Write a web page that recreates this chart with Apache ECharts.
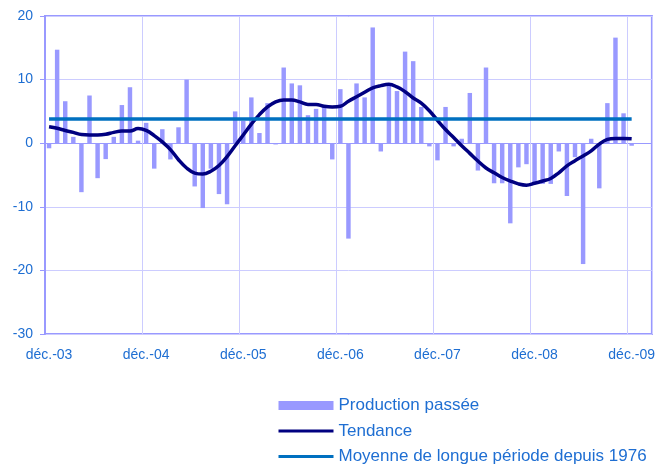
<!DOCTYPE html>
<html>
<head>
<meta charset="utf-8">
<script src="https://cdn.jsdelivr.net/npm/echarts@6/dist/echarts.min.js"></script>
<style>
  html, body { margin: 0; padding: 0; background: #fff; }
  #chart { width: 658px; height: 466px; }
</style>
</head>
<body>
<div id="chart"></div>
<script>
// mois et années de l'axe (déc.-03 -> fin de l'axe en mars-10)
const monthNames = ["déc.", "janv.", "févr.", "mars", "avr.", "mai", "juin", "juil.", "août", "sept.", "oct.", "nov."];
const startYears = ["03", "04", "05", "06", "07", "08", "09"];
const nbCategories = 75;

// production passée (barres), une valeur par mois depuis déc.-03
const production = [
  -0.8, 14.7, 6.6, 1.0, -7.7, 7.5, -5.5, -2.5, 1.0, 6.0, 8.8, 0.4,
  3.2, -4.0, 2.2, -2.55, 2.5, 10.0, -6.8, -10.2, -4.0, -8.0, -9.6, 5.0,
  3.5, 7.2, 1.6, 6.3, -0.2, 11.9, 9.4, 9.1, 4.4, 5.4, 5.7, -2.55,
  8.5, -15.0, 9.4, 7.2, 18.2, -1.3, 9.2, 8.2, 14.4, 12.9, 5.7, -0.5,
  -2.7, 5.7, -0.5, 0.7, 7.9, -4.3, 11.9, -6.3, -6.3, -12.6, -3.8, -3.3,
  -6.2, -6.4, -6.4, -1.3, -8.3, -2.2, -19.0, 0.7, -7.1, 6.3, 16.6, 4.7,
  -0.4
];

// tendance
const tendance = [
  2.6, 2.35, 2.0, 1.7, 1.35, 1.3, 1.3, 1.4, 1.7, 1.9, 1.9, 2.3,
  2.0, 1.2, 0.2, -1.0, -2.6, -3.9, -4.7, -4.85, -4.4, -3.5, -2.1, -0.4,
  1.3, 3.0, 4.5, 5.7, 6.5, 6.8, 6.8, 6.5, 6.1, 6.1, 5.8, 5.7,
  5.8, 6.6, 7.3, 8.0, 8.7, 9.05, 9.25, 8.85, 8.1, 7.1, 6.3, 5.1,
  3.6, 2.15, 0.9, -0.4, -1.6, -2.8, -3.9, -4.65, -5.4, -5.95, -6.4, -6.6,
  -6.3, -5.95, -5.55, -4.65, -3.55, -2.75, -2.0, -1.2, -0.15, 0.6, 0.75, 0.75,
  0.7
];

// moyenne de longue période depuis 1976
const moyenne = 3.8;

const yTicks = { min: -30, max: 20, interval: 10 };

const categories = [];
for (let i = 0; i < nbCategories; i++) {
  const y = Math.floor(i / 12);
  const yearLabel = i % 12 === 0 ? startYears[y] : String(parseInt(startYears[y], 10) + 1).padStart(2, "0");
  categories.push(monthNames[i % 12] + "-" + yearLabel);
}
const moyenneData = production.map(() => moyenne);

const textColor = "#1e6ed2";
const font = "Liberation Sans";

const chart = echarts.init(document.getElementById("chart"), null, { renderer: "canvas" });
chart.setOption({
  animation: false,
  textStyle: { fontFamily: font },
  grid: {
    left: 45,
    right: 6,
    top: 16,
    bottom: 132,
    show: true,
    borderColor: "#9999ff",
    borderWidth: 2,
  },
  legend: {
    orient: "vertical",
    left: 277,
    top: 397,
    padding: 0,
    itemGap: 8.5,
    itemWidth: 55,
    itemHeight: 9,
    textStyle: { color: textColor, fontSize: 17, fontFamily: font },
    lineStyle: { width: 3 },
    data: [
      { name: "Production passée", icon: "rect" },
      { name: "Tendance", itemStyle: { opacity: 0 } },
      { name: "Moyenne de longue période depuis 1976", itemStyle: { opacity: 0 } },
    ],
  },
  xAxis: {
    type: "category",
    data: categories,
    boundaryGap: true,
    axisLine: { show: false },
    axisTick: { show: false },
    axisLabel: {
      color: textColor,
      fontSize: 14,
      margin: 14,
      interval: (idx) => idx % 12 === 0,
    },
    splitLine: {
      show: true,
      interval: (idx) => idx % 12 === 0,
      lineStyle: { color: "#ccccff", width: 1 },
    },
  },
  yAxis: {
    type: "value",
    min: yTicks.min,
    max: yTicks.max,
    interval: yTicks.interval,
    axisLine: { show: true, lineStyle: { color: "#9999ff", width: 2 } },
    axisTick: { show: true, length: 5, lineStyle: { color: "#9999ff" } },
    axisLabel: { color: textColor, fontSize: 14, margin: 12 },
    splitLine: {
      lineStyle: {
        // la ligne du zéro est plus foncée
        color: ["#ccccff", "#ccccff", "#ccccff", "#9999ff", "#ccccff", "#ccccff"],
        width: 1,
      },
    },
  },
  series: [
    {
      name: "Production passée",
      type: "bar",
      data: production,
      barWidth: "55%",
      itemStyle: { color: "#9999ff" },
    },
    {
      name: "Tendance",
      type: "line",
      data: tendance,
      smooth: 0.4,
      symbol: "none",
      lineStyle: { color: "#000080", width: 3.5 },
      itemStyle: { color: "#000080" },
      z: 3,
    },
    {
      name: "Moyenne de longue période depuis 1976",
      type: "line",
      data: moyenneData,
      symbol: "none",
      lineStyle: { color: "#0070c0", width: 3.5 },
      itemStyle: { color: "#0070c0" },
      z: 4,
    },
  ],
});
</script>
</body>
</html>
